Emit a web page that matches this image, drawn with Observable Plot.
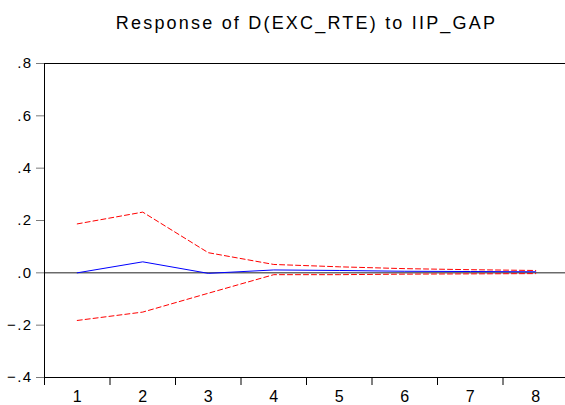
<!DOCTYPE html>
<html>
<head>
<meta charset="utf-8">
<script src="https://cdn.jsdelivr.net/npm/d3@7"></script>
<script src="https://cdn.jsdelivr.net/npm/@observablehq/plot@0.6"></script>
<style>
  body { margin: 0; background: #fff; }
  svg { display: block; }
  /* EViews draws its text large and with wide spacing */
  g[aria-label="y-axis tick label"] text { font-size: 15px; letter-spacing: 1.4px; }
  g[aria-label="x-axis tick label"] text { font-size: 16px; }
  g[aria-label="text"] text { letter-spacing: 2.2px; }
</style>
</head>
<body>
<div id="chart"></div>
<script>
// Impulse response of D(EXC_RTE) to a shock in IIP_GAP, with ±2 S.E. bands
const periods = [1, 2, 3, 4, 5, 6, 7, 8];
const response = [0.000, 0.042, -0.002, 0.011, 0.009, 0.006, 0.005, 0.004];
const upperBand = [0.187, 0.232, 0.077, 0.032, 0.023, 0.016, 0.012, 0.009];
const lowerBand = [-0.182, -0.150, -0.078, -0.007, -0.007, -0.005, -0.004, -0.003];
const yTicks = [-0.4, -0.2, 0, 0.2, 0.4, 0.6, 0.8];
const periodEdges = [0.5, 1.5, 2.5, 3.5, 4.5, 5.5, 6.5, 7.5, 8.5];
const title = "Response of D(EXC_RTE) to IIP_GAP";

// EViews-style labels: ".8", ".0", "-.2"
const fmtY = d => d3.format(".1f")(d).replace("0.", ".");

const chart = Plot.plot({
  width: 565,
  height: 405,
  marginLeft: 44,
  marginRight: -3,
  marginTop: 63,
  marginBottom: 28,
  x: { domain: [0.5, 8.5] },
  y: { domain: [-0.4, 0.8] },
  style: { fontFamily: "'Liberation Sans', Arial, sans-serif", background: "#fff", color: "black" },
  marks: [
    Plot.ruleY([0], { stroke: "#222", strokeWidth: 1 }),
    Plot.lineY(upperBand, { x: periods, stroke: "#ff0000", strokeWidth: 1, strokeDasharray: "5,3" }),
    Plot.lineY(lowerBand, { x: periods, stroke: "#ff0000", strokeWidth: 1, strokeDasharray: "5,3" }),
    Plot.lineY(response, { x: periods, stroke: "#0000ff", strokeWidth: 1 }),
    Plot.frame({ stroke: "black" }),
    Plot.axisY(yTicks, {
      tickFormat: fmtY, tickSize: 8, tickPadding: 4, stroke: "#7a7a7a", fill: "black",
      fontSize: 15, label: null
    }),
    Plot.axisX(periodEdges, { tickSize: 8, tickFormat: () => "", stroke: "black", label: null }),
    Plot.axisX(periods, { tickSize: 0, tickPadding: 13, fontSize: 16, fill: "black", label: null }),
    Plot.text([title], { text: d => d, frameAnchor: "top", dy: -47, fontSize: 18, fill: "black" })
  ]
});

document.getElementById("chart").appendChild(chart);
</script>
</body>
</html>
